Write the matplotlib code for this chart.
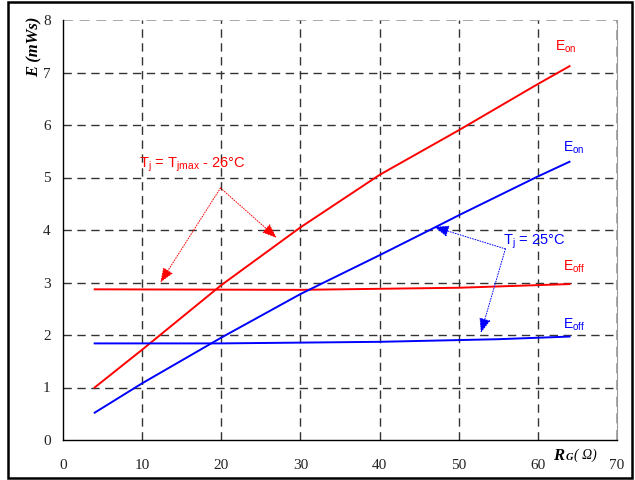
import matplotlib.pyplot as plt
from matplotlib.patches import Rectangle

rg_eon_red = [4, 10, 20, 30, 40, 50, 60, 64]
eon_red = [1.0, 1.72, 2.95, 4.05, 5.05, 5.9, 6.78, 7.12]

rg_eon_blue = [4, 10, 20, 30, 40, 47, 50, 60, 64]
eon_blue = [0.52, 1.08, 1.95, 2.78, 3.52, 4.05, 4.28, 5.02, 5.3]

rg_eoff_red = [4, 30, 50, 64]
eoff_red = [2.87, 2.86, 2.9, 2.97]

rg_eoff_blue = [4, 20, 40, 55, 64]
eoff_blue = [1.84, 1.84, 1.87, 1.92, 1.97]

x_ticks = [0, 10, 20, 30, 40, 50, 60, 70]
y_ticks = [0, 1, 2, 3, 4, 5, 6, 7, 8]

red = '#ff0000'
blue = '#0000ff'

fig = plt.figure(figsize=(6.35, 4.8), dpi=100)
ax = fig.add_axes([63 / 635, 1 - 440 / 480, 554 / 635, 420 / 480])

# outer frame round the whole figure
fig.patches.append(Rectangle((8 / 635, 2 / 480), 624 / 635, 476 / 480,
                             transform=fig.transFigure, fill=False,
                             edgecolor='black', linewidth=1.8))

ax.set_xlim(0, 70)
ax.set_ylim(0, 8)
ax.set_xticks(x_ticks)
ax.set_yticks(y_ticks)
ax.tick_params(length=0, labelsize=11)
ax.tick_params(axis='x', pad=14)
ax.tick_params(axis='y', pad=9)
for lbl in ax.get_xticklabels() + ax.get_yticklabels():
    lbl.set_fontfamily('Liberation Serif')
    lbl.set_color('#222222')

# dashed grid
for xv in x_ticks[1:-1]:
    ax.axvline(xv, color='#333333', linestyle=(0, (6, 4)), linewidth=1.0, zorder=1)
for yv in y_ticks[1:-1]:
    ax.axhline(yv, color='#333333', linestyle=(0, (6, 4)), linewidth=1.0, zorder=1)
ax.axvline(70, color='#999999', linestyle=(0, (6, 4)), linewidth=1.2, zorder=1)
ax.axhline(8, color='#999999', linestyle=(0, (6, 4)), linewidth=1.2, zorder=1)

ax.spines['top'].set_visible(False)
ax.spines['right'].set_color('#999999')
ax.spines['left'].set_linewidth(1.0)
ax.spines['bottom'].set_linewidth(1.0)

ax.plot(rg_eon_red, eon_red, color=red, linewidth=1.4, zorder=3)
ax.plot(rg_eoff_red, eoff_red, color=red, linewidth=1.4, zorder=3)
ax.plot(rg_eon_blue, eon_blue, color=blue, linewidth=1.4, zorder=3)
ax.plot(rg_eoff_blue, eoff_blue, color=blue, linewidth=1.4, zorder=3)

sans = 'Liberation Sans'
ax.text(62.2, 7.42, r'E$_{\mathregular{on}}$', color=red, fontsize=10, family=sans)
ax.text(63.2, 5.5, r'E$_{\mathregular{on}}$', color=blue, fontsize=10, family=sans)
ax.text(63.2, 3.22, r'E$_{\mathregular{off}}$', color=red, fontsize=10, family=sans)
ax.text(63.2, 2.13, r'E$_{\mathregular{off}}$', color=blue, fontsize=10, family=sans)

ax.text(9.6, 5.24, r'T$_{\mathregular{j}}$ = T$_{\mathregular{jmax}}$ - 26°C', color=red,
        fontsize=10.5, family=sans, va='center')
ax.text(55.6, 3.78, r'T$_{\mathregular{j}}$ = 25°C', color=blue,
        fontsize=10.5, family=sans, va='center')

arrow_red = dict(arrowstyle='-|>,head_length=0.9,head_width=0.35', color=red,
                 linestyle=':', linewidth=0.7, shrinkA=0, shrinkB=0)
ax.annotate('', xy=(12.3, 3.0), xytext=(19.9, 4.8), arrowprops=arrow_red)
ax.annotate('', xy=(27.0, 3.85), xytext=(19.9, 4.8), arrowprops=arrow_red)

arrow_blue = dict(arrowstyle='-|>,head_length=0.9,head_width=0.35', color=blue,
                  linestyle=':', linewidth=0.7, shrinkA=0, shrinkB=0)
ax.annotate('', xy=(46.9, 4.06), xytext=(55.9, 3.64), arrowprops=arrow_blue)
ax.annotate('', xy=(52.8, 2.04), xytext=(55.9, 3.64), arrowprops=arrow_blue)

# axis titles
fig.text(35 / 635, 1 - 47 / 480, 'E (mWs)', rotation=90, ha='center', va='center',
         family='Liberation Serif', style='italic', weight='bold', fontsize=12)
fig.text(553 / 635, 1 - 456 / 480, 'R', ha='left', va='center',
         family='Liberation Serif', style='italic', weight='bold', fontsize=12)
fig.text(566 / 635, 1 - 458 / 480, 'G', ha='left', va='center',
         family='Liberation Serif', style='italic', weight='bold', fontsize=7.5)
fig.text(574 / 635, 1 - 455 / 480, '( Ω)', ha='left', va='center',
         family='Liberation Serif', style='italic', fontsize=10)

plt.savefig('out.png', dpi=100)
